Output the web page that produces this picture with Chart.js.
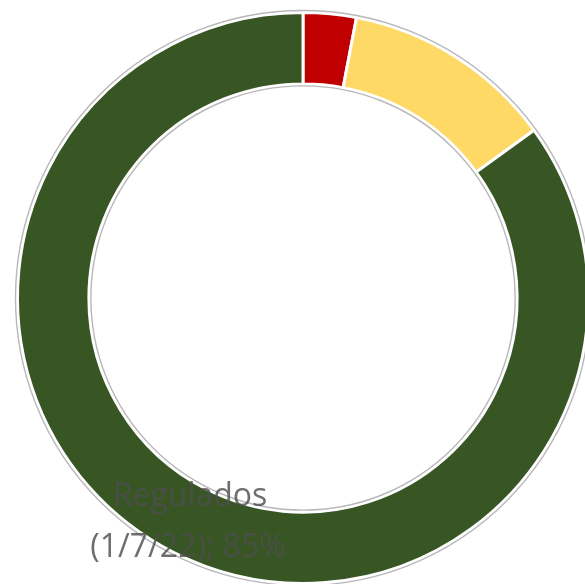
<!DOCTYPE html>
<html>
<head>
<meta charset="utf-8">
<script src="https://cdn.jsdelivr.net/npm/chart.js@4/dist/chart.umd.min.js"></script>
<style>
  html, body { margin: 0; padding: 0; width: 585px; height: 584px; overflow: hidden; background: #ffffff; }
  #wrap { position: absolute; left: 0; top: 0; width: 606px; height: 596px; }
</style>
</head>
<body>
<div id="wrap"><canvas id="c" width="606" height="596"></canvas></div>
<script>
const categories = ["Vencidos (1/7/22)", "En proceso (1/7/22)", "Regulados (1/7/22)"];
const values = [3, 12, 85];
const colors = ["#C00000", "#FFD966", "#375623"];
const labelLines = ["Regulados", "(1/7/22); 85%"];

const outlinePlugin = {
  id: 'outline',
  afterDatasetsDraw(chart) {
    const meta = chart.getDatasetMeta(0);
    if (!meta.data.length) return;
    const arc = meta.data[0];
    const ctx = chart.ctx;
    ctx.save();
    ctx.strokeStyle = '#b8b8b8';
    ctx.lineWidth = 1.4;
    ctx.beginPath();
    ctx.arc(arc.x, arc.y, arc.outerRadius + 2, 0, Math.PI * 2);
    ctx.stroke();
    ctx.beginPath();
    ctx.arc(arc.x, arc.y, arc.innerRadius - 2, 0, Math.PI * 2);
    ctx.stroke();
    ctx.restore();
  }
};

const labelPlugin = {
  id: 'sliceLabel',
  afterDraw(chart) {
    const ctx = chart.ctx;
    ctx.save();
    ctx.font = '32px "Open Sans"';
    ctx.fillStyle = 'rgba(78,78,78,0.82)';
    ctx.textAlign = 'center';
    ctx.textBaseline = 'alphabetic';
    ctx.fillText(labelLines[0], 190, 506);
    ctx.fillText(labelLines[1], 188, 557);
    ctx.restore();
  }
};

new Chart(document.getElementById('c'), {
  type: 'doughnut',
  data: {
    labels: categories,
    datasets: [{
      data: values,
      backgroundColor: colors,
      borderColor: '#ffffff',
      borderWidth: 3,
      hoverOffset: 0
    }]
  },
  options: {
    responsive: false,
    animation: false,
    cutout: '75%',
    layout: { padding: 11 },
    plugins: {
      legend: { display: false },
      tooltip: { enabled: false }
    }
  },
  plugins: [outlinePlugin, labelPlugin]
});
</script>
</body>
</html>
